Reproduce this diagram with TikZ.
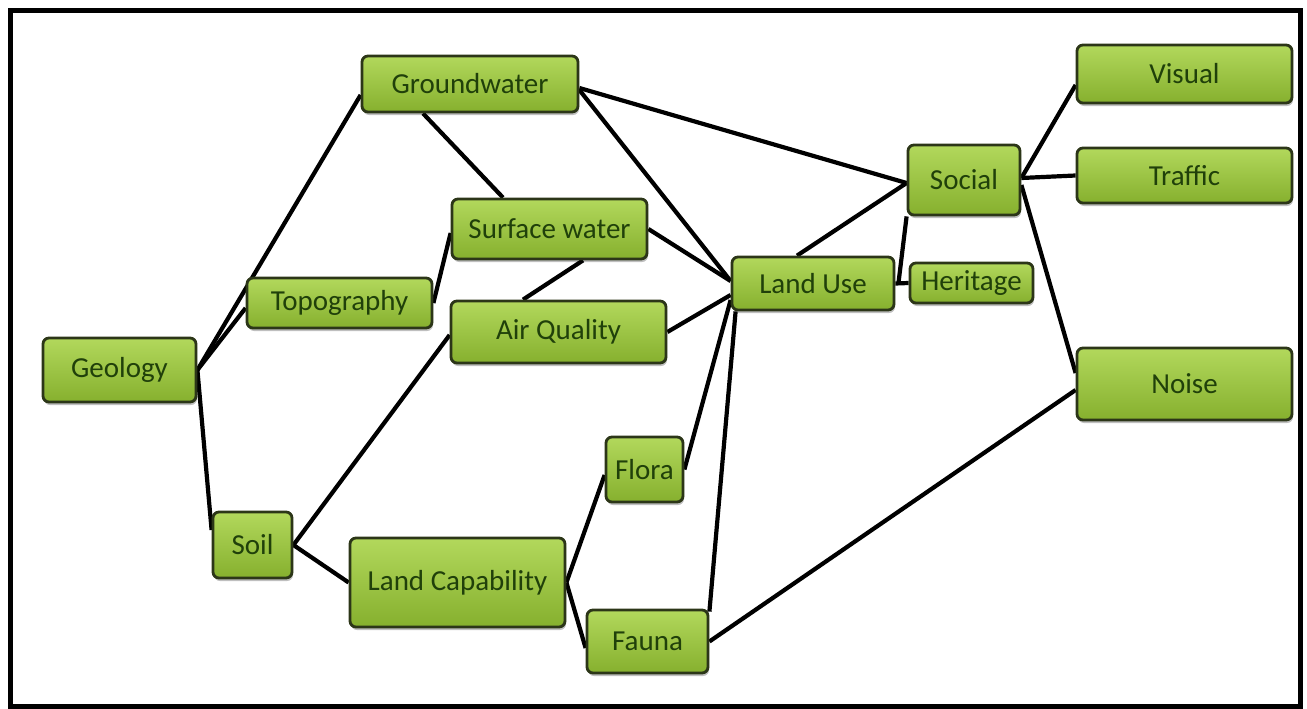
\documentclass[tikz,border=0pt]{standalone}
\usepackage{fontspec}
\setmainfont{Carlito}
\usetikzlibrary{shadows,backgrounds,calc}
\definecolor{boxtop}{RGB}{178,216,92}
\definecolor{boxbot}{RGB}{134,176,46}
\definecolor{boxline}{RGB}{44,54,24}
\definecolor{boxtext}{RGB}{32,64,10}
\tikzset{
  box/.style={draw=boxline, line width=2.8pt, rounded corners=6pt,
    top color=boxtop, bottom color=boxbot, text=boxtext,
    inner sep=0pt, font=\fontsize{29}{32}\selectfont,
    drop shadow={shadow xshift=1pt, shadow yshift=-3pt, opacity=0.25, fill=black}},
  link/.style={draw=black, line width=4.2pt},
  frame/.style={draw=black, line width=5pt}
}
\begin{document}
\begin{tikzpicture}[x=1pt,y=-1pt]
\useasboundingbox (0,0) rectangle (1307,709);
\draw[frame] (10.5,10.5) rectangle (1300.5,706);
% nodes
\node[box, minimum width=153pt, minimum height=64pt] (geo) at (119.5,370) {Geology};
\node[box, minimum width=216pt, minimum height=56pt] (gw) at (470,84) {Groundwater};
\node[box, minimum width=185pt, minimum height=50pt] (topo) at (339.5,303) {Topography};
\node[box, minimum width=195pt, minimum height=60pt] (sw) at (549.5,229) {Surface water};
\node[box, minimum width=215pt, minimum height=62pt] (aq) at (558.5,332) {Air Quality};
\node[box, minimum width=162pt, minimum height=53pt] (lu) at (813,283.5) {Land Use};
\node[box, minimum width=123pt, minimum height=40pt] (her) at (971.5,283) {Heritage};
\node[box, minimum width=112pt, minimum height=70pt] (soc) at (964,180) {Social};
\node[box, minimum width=215pt, minimum height=58pt] (vis) at (1184.5,74) {Visual};
\node[box, minimum width=215pt, minimum height=55pt] (tra) at (1184.5,175.5) {Traffic};
\node[box, minimum width=215pt, minimum height=72pt] (noi) at (1184.5,384) {Noise};
\node[box, minimum width=79pt, minimum height=66pt] (soil) at (252.5,545) {Soil};
\node[box, minimum width=215pt, minimum height=89pt] (lc) at (457.5,582.5) {Land Capability};
\node[box, minimum width=77pt, minimum height=65pt] (flo) at (644.5,469.5) {Flora};
\node[box, minimum width=121pt, minimum height=63pt] (fau) at (647.5,641.5) {Fauna};
% connectors
\begin{scope}[on background layer]
\draw[link] (geo.east) -- ([yshift=-11pt]gw.west);
\draw[link] (geo.east) -- ([yshift=-5pt]topo.west);
\draw[link] (geo.east) -- ([yshift=15pt]soil.west);
\draw[link] ([xshift=-47pt]gw.south) -- ([xshift=-46.5pt]sw.north);
\draw[link] ([yshift=-4pt]gw.east) -- ([yshift=-3pt]soc.west);
\draw[link] ([yshift=-6pt]gw.east) -- ([yshift=2.5pt]lu.west);
\draw[link] (topo.east) -- ([yshift=-4pt]sw.west);
\draw[link] ([xshift=33.5pt]sw.south) -- ([xshift=-35.5pt]aq.north);
\draw[link] (sw.east) -- ([yshift=2.5pt]lu.west);
\draw[link] (aq.east) -- ([yshift=-11.5pt]lu.west);
\draw[link] (soil.east) -- ([yshift=-3pt]aq.west);
\draw[link] (soil.east) -- (lc.west);
\draw[link] (lc.east) -- ([yshift=-5.5pt]flo.west);
\draw[link] (lc.east) -- ([yshift=-6.5pt]fau.west);
\draw[link] (flo.east) -- ([yshift=-16.5pt]lu.west);
\draw[link] ([yshift=-3pt]fau.north east) -- ([xshift=5pt]lu.south west);
\draw[link] (fau.east) -- ([yshift=-6pt]noi.west);
\draw[link] ([xshift=-16pt]lu.north) -- ([yshift=-3pt]soc.west);
\draw[link] (soc.south west) -- ([xshift=3pt]lu.east);
\draw[link] (lu.east) -- (her.west);
\draw[link] ([yshift=2pt]soc.east) -- ([yshift=-11pt]vis.west);
\draw[link] ([yshift=2pt]soc.east) -- (tra.west);
\draw[link] ([yshift=-5pt]soc.east) -- ([yshift=11pt]noi.west);
\end{scope}
\end{tikzpicture}
\end{document}
